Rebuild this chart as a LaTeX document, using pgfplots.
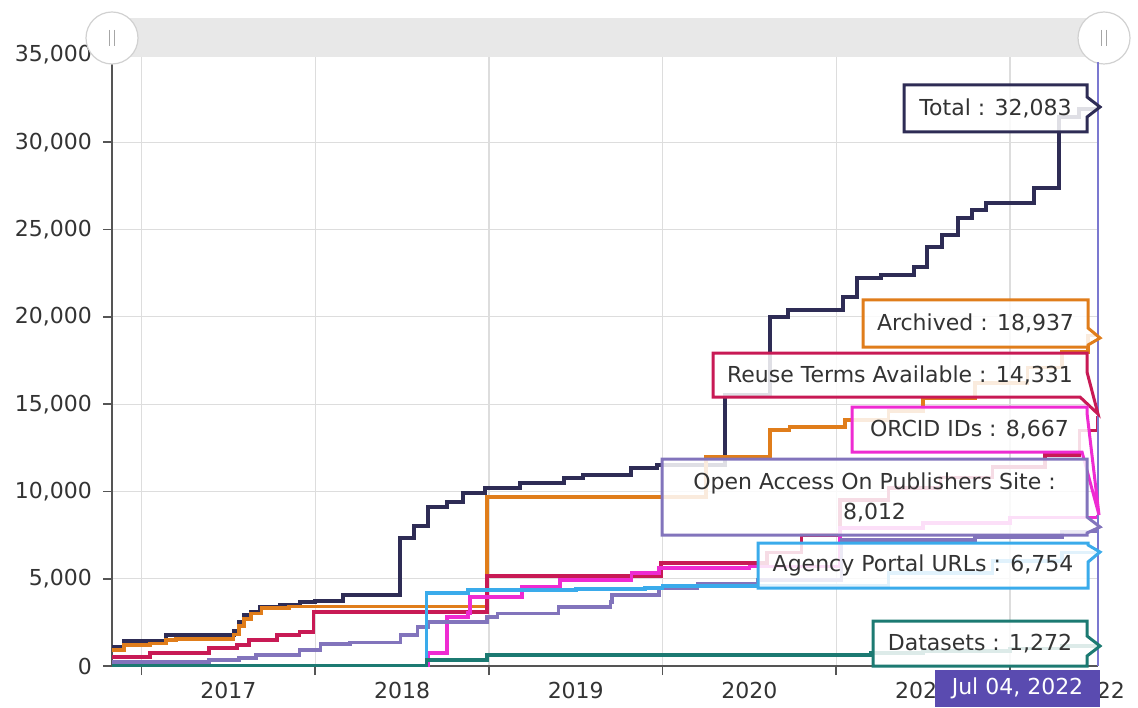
\documentclass[border=0pt]{standalone}
\usepackage{pgfplots}
\pgfplotsset{compat=1.18}
\usepackage{fontspec}
\setmainfont{DejaVu Sans}
\definecolor{cTotal}{HTML}{2E2C55}
\definecolor{cArch}{HTML}{E07D1B}
\definecolor{cReuse}{HTML}{C81A55}
\definecolor{cOrcid}{HTML}{EE2BD2}
\definecolor{cOpen}{HTML}{8274BC}
\definecolor{cAgency}{HTML}{3AABEB}
\definecolor{cData}{HTML}{1C7A72}
\definecolor{cDate}{HTML}{5A4BB0}
\definecolor{cTxt}{HTML}{333333}
\definecolor{cAxis}{HTML}{555555}
\definecolor{cGrid}{HTML}{DDDDDD}
\definecolor{cVline}{HTML}{7B78D0}

\pgfplotstableread{
x y
2016.83 1090
2016.90 1430
2017.14 1780
2017.53 2000
2017.56 2500
2017.59 2900
2017.63 3100
2017.68 3380
2017.80 3500
2017.91 3670
2018.00 3750
2018.16 4070
2018.49 7330
2018.57 8020
2018.65 9100
2018.76 9400
2018.85 9900
2018.98 10200
2019.18 10480
2019.43 10770
2019.54 10940
2019.82 11340
2019.97 11510
2020.36 15500
2020.62 19990
2020.72 20400
2021.04 21140
2021.12 22220
2021.26 22400
2021.45 22860
2021.52 24000
2021.61 24690
2021.70 25660
2021.78 26120
2021.86 26520
2022.14 27380
2022.28 31450
2022.40 31900
2022.507 32083
}\total

\pgfplotstableread{
x y
2016.83 920
2016.90 1200
2017.05 1300
2017.14 1490
2017.20 1550
2017.53 1800
2017.56 2300
2017.59 2700
2017.63 3000
2017.69 3320
2017.85 3400
2018.99 9680
2020.25 11970
2020.62 13520
2020.73 13700
2021.05 14100
2021.30 14600
2021.50 15350
2021.80 16200
2022.10 17100
2022.30 18000
2022.45 18937
2022.507 18937
}\archived

\pgfplotstableread{
x y
2016.83 520
2017.05 740
2017.39 1030
2017.55 1200
2017.62 1490
2017.78 1780
2017.91 1950
2017.99 3100
2018.99 5160
2019.99 5900
2020.60 6500
2020.80 7500
2021.02 9500
2021.30 10200
2021.60 10800
2021.90 11400
2022.20 12090
2022.40 13500
2022.507 14331
}\reuse

\pgfplotstableread{
x y
2016.83 0
2018.65 740
2018.76 2810
2018.88 3040
2018.89 3950
2019.19 4530
2019.41 4930
2019.82 5330
2019.98 5610
2020.50 5700
2021.02 7900
2021.50 8200
2022.00 8500
2022.507 8667
}\orcid

\pgfplotstableread{
x y
2016.83 230
2017.39 340
2017.56 460
2017.66 630
2017.91 920
2018.03 1260
2018.20 1350
2018.49 1780
2018.59 2230
2018.65 2520
2018.99 2810
2019.05 3000
2019.40 3380
2019.70 3670
2019.71 4070
2019.98 4470
2020.20 4700
2020.55 4930
2021.03 7220
2021.80 7390
2022.30 7700
2022.507 8012
}\openaccess

\pgfplotstableread{
x y
2016.83 0
2018.64 4180
2018.88 4360
2019.50 4420
2019.90 4470
2020.00 4600
2021.30 5330
2021.90 6000
2022.30 6500
2022.507 6754
}\agency

\pgfplotstableread{
x y
2016.83 0
2018.64 340
2018.99 630
2021.20 740
2021.50 850
2022.00 1000
2022.30 1150
2022.507 1272
}\datasets

\begin{document}
\begin{tikzpicture}
\begin{axis}[
  name=ax,
  scale only axis,
  width=493pt, height=305.5pt,
  xmin=2016.83, xmax=2022.507,
  ymin=0, ymax=35000,
  axis x line*=bottom, axis y line*=left,
  axis line style={color=cAxis, line width=0.8pt},
  xtick={2017,2018,2019,2020,2021,2022},
  xticklabels={},
  extra x ticks={2017.5,2018.5,2019.5,2020.5,2021.5,2022.5},
  extra x tick labels={2017,2018,2019,2020,2021,2022},
  extra x tick style={grid=none, major tick length=0pt, xticklabel style={yshift=-4.5pt}},
  ytick={0,5000,10000,15000,20000,25000,30000,35000},
  scaled ticks=false,
  tick align=outside,
  major tick length=4.5pt,
  tick style={color=cAxis, line width=0.8pt},
  grid=major,
  major grid style={color=cGrid, line width=0.6pt},
  tick label style={font=\fontsize{11}{13}\selectfont, text=cTxt},
  yticklabel style={xshift=-2pt},
  /pgf/number format/.cd, 1000 sep={,}, assume math mode=true,
]
\addplot[const plot, color=cTotal, line width=2pt] table {\total};
\addplot[const plot, color=cArch, line width=1.8pt] table {\archived};
\addplot[const plot, color=cReuse, line width=1.8pt] table {\reuse};
\addplot[const plot, color=cOrcid, line width=1.8pt] table {\orcid};
\addplot[const plot, color=cOpen, line width=1.8pt] table {\openaccess};
\addplot[const plot, color=cAgency, line width=1.8pt] table {\agency};
\addplot[const plot, color=cData, line width=1.8pt] table {\datasets};
\end{axis}

\begin{scope}[shift={(ax.south west)}, x=0.5pt, y=-0.5pt, shift={(-112,-666)}]
  % scrollbar
  \fill[color=black!9] (112,18) rectangle (1100,57);
  \foreach \hx in {112,1104} {
    \draw[fill=white, draw=black!18, line width=0.6pt] (\hx,38) circle (26);
    \draw[color=black!35, line width=0.6pt] (\hx-2.5,30) -- (\hx-2.5,46) (\hx+2.5,30) -- (\hx+2.5,46);
  }
  % hover line
  \draw[color=cVline, line width=0.6pt] (1098,62) -- (1098,666);
  \tikzset{cbox/.style={fill=white, fill opacity=0.85, draw opacity=1, line width=1.5pt, line join=miter},
           ctext/.style={text=cTxt, font=\fontsize{11}{14}\selectfont, inner sep=0pt, text opacity=1}}
  % Total
  \draw[cbox, draw=cTotal] (904,85) -- (1087,85) -- (1087,97) -- (1100,107) -- (1087,117) -- (1087,132) -- (904,132) -- cycle;
  \node[ctext] at (995.5,108.5) {Total : 32,083};
  % Archived
  \draw[cbox, draw=cArch] (863,300) -- (1088,300) -- (1088,328) -- (1100,338) -- (1088,345) -- (1088,347) -- (863,347) -- cycle;
  \node[ctext] at (975.5,323.5) {Archived : 18,937};
  % Reuse
  \draw[cbox, draw=cReuse] (713,353) -- (1087,353) -- (1087,372) -- (1098,414) -- (1080,397) -- (713,397) -- cycle;
  \node[ctext] at (900,375) {Reuse Terms Available : 14,331};
  % ORCID
  \draw[cbox, draw=cOrcid] (852,407) -- (1087,407) -- (1087,413) -- (1099,515) -- (1082,452) -- (852,452) -- cycle;
  \node[ctext] at (969.5,429.5) {ORCID IDs : 8,667};
  % Open Access
  \draw[cbox, draw=cOpen] (662,459) -- (1087,459) -- (1087,517) -- (1100,527) -- (1087,533) -- (1087,535) -- (662,535) -- cycle;
  \node[ctext, align=center] at (874.5,497) {Open Access On Publishers Site :\\[1pt]8,012};
  % Agency
  \draw[cbox, draw=cAgency] (758,543) -- (1088,543) -- (1088,545) -- (1100,552) -- (1088,562) -- (1088,588) -- (758,588) -- cycle;
  \node[ctext] at (923,565.5) {Agency Portal URLs : 6,754};
  % Datasets
  \draw[cbox, draw=cData] (873,621) -- (1087,621) -- (1087,636) -- (1100,646) -- (1087,656) -- (1087,666) -- (873,666) -- cycle;
  \node[ctext] at (980,643.5) {Datasets : 1,272};
  % date box
  \fill[color=cDate] (935,670) rectangle (1100,707);
  \node[text=white, font=\fontsize{11}{13}\selectfont, inner sep=0pt] at (1017.5,688.5) {Jul 04, 2022};
\end{scope}

\pgfresetboundingbox
\path[shift={(ax.south west)}, x=0.5pt, y=-0.5pt, shift={(-112,-666)}] (0,0) rectangle (1138,707);
\end{tikzpicture}
\end{document}
